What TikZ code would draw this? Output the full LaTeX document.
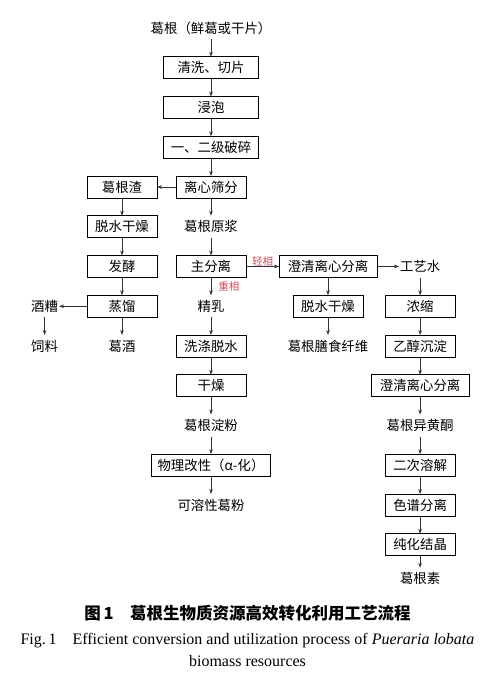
\documentclass[tikz,border=0pt]{standalone}
\usepackage{fontspec}
\setmainfont{Liberation Serif}
\newfontfamily\cjk{Noto Sans CJK SC}
\usetikzlibrary{positioning,arrows.meta}
\definecolor{phase}{RGB}{222,72,92}
\newcommand\boxfont{\cjk\fontsize{13.4}{16}\selectfont}

\begin{document}
\begin{tikzpicture}[
  x=1pt, y=-1pt, node distance=17.75pt,
  font=\boxfont, >={Stealth[length=5pt,width=3.6pt]},
  box/.style={draw, line width=0.9pt, minimum width=70pt, minimum height=22pt, inner sep=2pt, outer sep=0pt},
  widebox/.style={box, minimum width=95pt},
  txt/.style={minimum height=22pt, inner sep=1pt, outer sep=0pt},
  lbl/.style={font=\cjk\fontsize{10.5}{12}\selectfont, text=phase, inner sep=1pt},
  flow/.style={->, line width=0.7pt, black!80},
]
\useasboundingbox (0,0) rectangle (500,689);
% ---- main column ----
\node[txt] (raw) at (211,28) {葛根（鲜葛或干片）};
\node[widebox, below=of raw] (wash) {清洗、切片};
\node[widebox, below=of wash] (soak) {浸泡};
\node[widebox, below=of soak] (crush) {一、二级破碎};
\node[box, below=of crush] (sieve) {离心筛分};
\node[txt, below=of sieve] (slurry) {葛根原浆};
\node[box, below=of slurry] (sep) {主分离};
\node[txt, below=of sep] (milk) {精乳};
\node[box, below=of milk] (rinse) {洗涤脱水};
\node[box, below=of rinse] (dryst) {干燥};
\node[txt, below=of dryst] (starch) {葛根淀粉};
\node[box, below=of starch, minimum width=119pt] (modif) {物理改性（α-化）};
\node[txt, below=of modif] (soluble) {可溶性葛粉};
% ---- residue branch (left) ----
\node[box, left=19pt of sieve] (residue) {葛根渣};
\node[box, below=of residue] (dewat) {脱水干燥};
\node[box, below=of dewat] (ferment) {发酵};
\node[box, below=of ferment] (distil) {蒸馏};
\node[txt, below=of distil] (wine) {葛酒};
\node[txt, left=28pt of distil] (lees) {酒糟};
\node[txt, below=of lees] (feed) {饲料};
% ---- light phase (right) ----
\node[box, right=33pt of sep, minimum width=98pt] (clar) {澄清离心分离};
\node[txt, right=22pt of clar] (water) {工艺水};
\node[box, below=of clar] (dryfib) {脱水干燥};
\node[txt, below=of dryfib] (fiber) {葛根膳食纤维};
\node[box, below=of water] (conc) {浓缩};
\node[box, below=of conc] (ethp) {乙醇沉淀};
\node[box, below=of ethp, minimum width=98pt] (clarb) {澄清离心分离};
\node[txt, below=of clarb] (isofl) {葛根异黄酮};
\node[box, below=of isofl] (redis) {二次溶解};
\node[box, below=of redis] (chrom) {色谱分离};
\node[box, below=of chrom] (cryst) {纯化结晶};
\node[txt, below=12pt of cryst] (puer) {葛根素};
% ---- arrows ----
\foreach \a/\b in {raw/wash,wash/soak,soak/crush,crush/sieve,sieve/slurry,slurry/sep,
  milk/rinse,rinse/dryst,dryst/starch,starch/modif,modif/soluble,
  residue/dewat,dewat/ferment,ferment/distil,distil/wine,lees/feed,
  clar/dryfib,dryfib/fiber,water/conc,conc/ethp,ethp/clarb,clarb/isofl,
  isofl/redis,redis/chrom,chrom/cryst,cryst/puer}
  \draw[flow] (\a) -- (\b);
\draw[flow, line width=1pt] (sieve) -- (residue);
\draw[flow] (distil) -- (lees);
\draw[flow] (clar) -- (water);
\draw[flow] (sep) -- (clar) node[midway, above=-1pt, lbl] {轻相};
\draw[flow] (sep) -- (milk) node[midway, right=6pt, lbl] {重相};
% ---- caption ----
\node[font=\cjk\bfseries\fontsize{16.5}{18}\selectfont, inner sep=0pt] (title) at (247.5,613)
  {图\,1\quad 葛根生物质资源高效转化利用工艺流程};
\node[font=\rmfamily\fontsize{16}{22}\selectfont, align=center, inner sep=0pt, below=12pt of title] (entitle)
  {Fig.\,1\quad Efficient conversion and utilization process of \textit{Pueraria lobata}\\
   biomass resources};
\end{tikzpicture}
\end{document}
